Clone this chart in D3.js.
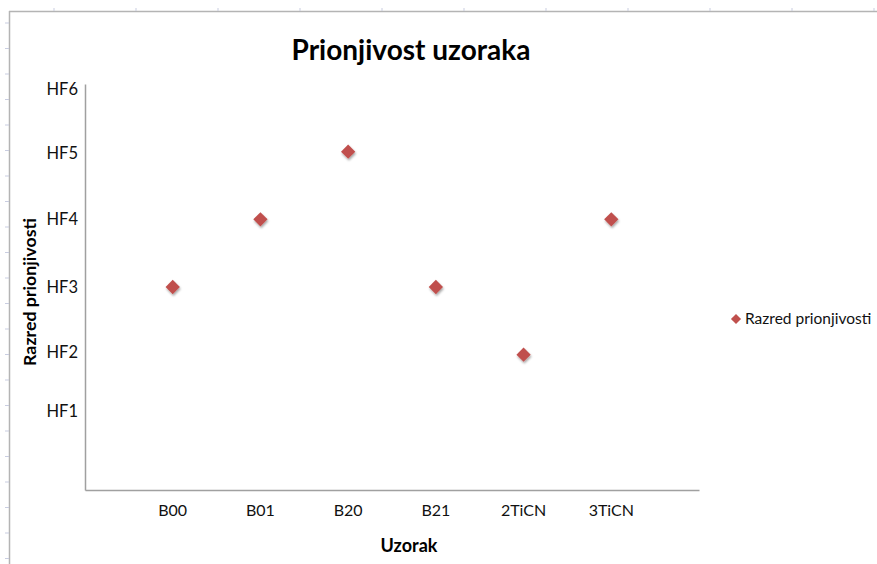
<!DOCTYPE html>
<html>
<head>
<meta charset="utf-8">
<script src="https://cdn.jsdelivr.net/npm/d3@7"></script>
<style>
  html, body { margin: 0; padding: 0; background: #fff; }
  svg { display: block; font-family: Lato, "Open Sans", sans-serif; }
</style>
</head>
<body>
<div id="chart"></div>
<script>
// Adhesion class per sample
const samples = ["B00", "B01", "B20", "B21", "2TiCN", "3TiCN"];
const samplePos = [1, 2, 3, 4, 5, 6];
const adhesion = [3, 4, 5, 3, 2, 4];

// Y-axis class labels and where they sit on the value scale
const classLabels = ["HF1", "HF2", "HF3", "HF4", "HF5", "HF6"];
const classLabelPos = [1.16, 2.03, 3.0, 4.0, 4.97, 5.93];

const seriesName = "Razred prionjivosti";
const markerColor = "#C0504D";

const W = 877, H = 564;
const svg = d3.select("#chart").append("svg")
  .attr("width", W).attr("height", H);

// soft shadow beneath markers
const defs = svg.append("defs");
const f = defs.append("filter").attr("id", "shadow")
  .attr("x", "-50%").attr("y", "-50%").attr("width", "200%").attr("height", "200%");
f.append("feDropShadow").attr("dx", 0.8).attr("dy", 1.8)
  .attr("stdDeviation", 1.2).attr("flood-color", "#000").attr("flood-opacity", 0.35);

// sheet frame with small ruler ticks
const frame = svg.append("g");
frame.append("line").attr("x1", 9).attr("x2", W).attr("y1", 11.5).attr("y2", 11.5)
  .attr("stroke", "#b4b4b4").attr("stroke-width", 1.5);
frame.append("line").attr("x1", 9.5).attr("x2", 9.5).attr("y1", 11).attr("y2", H)
  .attr("stroke", "#b4b4b4").attr("stroke-width", 1.5);
frame.selectAll(".rt").data(d3.range(23, H, 25.5)).join("line")
  .attr("x1", 5).attr("x2", 9).attr("y1", d => d).attr("y2", d => d)
  .attr("stroke", "#c9cde0").attr("stroke-width", 1);
frame.selectAll(".ct").data(d3.range(54, W, 82)).join("line")
  .attr("x1", d => d).attr("x2", d => d).attr("y1", 8).attr("y2", 11)
  .attr("stroke", "#c9cde0").attr("stroke-width", 1);

// scales
const x = d3.scaleLinear().domain([0, 7]).range([85, 699]);
const y = d3.scaleLinear().domain([0, 6]).range([490, 84]);

// axes (lines only; labels drawn separately)
const axisColor = "#a0a0a0";
const yAxis = svg.append("g").attr("transform", `translate(${x(0)},0)`)
  .call(d3.axisLeft(y).tickValues([]).tickSizeOuter(0));
yAxis.select(".domain").attr("stroke", axisColor).attr("stroke-width", 1.5);
const xAxis = svg.append("g").attr("transform", `translate(0,${y(0)})`)
  .call(d3.axisBottom(x).tickValues([]).tickSizeOuter(0));
xAxis.select(".domain").attr("stroke", axisColor).attr("stroke-width", 1.5);

// y class labels
svg.append("g").selectAll("text").data(classLabels).join("text")
  .attr("x", 78).attr("y", (d, i) => y(classLabelPos[i]))
  .attr("dy", "0.35em").attr("text-anchor", "end")
  .attr("font-size", 16.5).attr("fill", "#111").text(d => d);

// x sample labels
svg.append("g").selectAll("text").data(samples).join("text")
  .attr("x", (d, i) => x(samplePos[i])).attr("y", 516)
  .attr("text-anchor", "middle").attr("font-size", 16).attr("fill", "#111")
  .text(d => d);

// markers
const diamond = d3.symbol().type(d3.symbolDiamond2).size(130);
svg.append("g").selectAll("path").data(adhesion).join("path")
  .attr("d", diamond)
  .attr("transform", (d, i) => `translate(${x(samplePos[i])},${y(d)})`)
  .attr("fill", markerColor).attr("filter", "url(#shadow)");

// title
svg.append("text").attr("x", 411).attr("y", 60).attr("text-anchor", "middle")
  .attr("font-size", 28).attr("font-weight", "bold").attr("fill", "#000")
  .text("Prionjivost uzoraka");

// axis titles
svg.append("text").attr("x", 409).attr("y", 552).attr("text-anchor", "middle")
  .attr("font-size", 18).attr("font-weight", "bold").attr("fill", "#000")
  .text("Uzorak");
svg.append("text").attr("transform", "translate(36,292) rotate(-90)")
  .attr("text-anchor", "middle")
  .attr("font-size", 17.8).attr("font-weight", "bold").attr("fill", "#000")
  .text("Razred prionjivosti");

// legend
const lg = svg.append("g").attr("transform", "translate(736,319)");
lg.append("path").attr("d", d3.symbol().type(d3.symbolDiamond2).size(65))
  .attr("fill", markerColor);
lg.append("text").attr("x", 9).attr("dy", "0.35em").attr("font-size", 15.5)
  .attr("fill", "#111").text(seriesName);
</script>
</body>
</html>
